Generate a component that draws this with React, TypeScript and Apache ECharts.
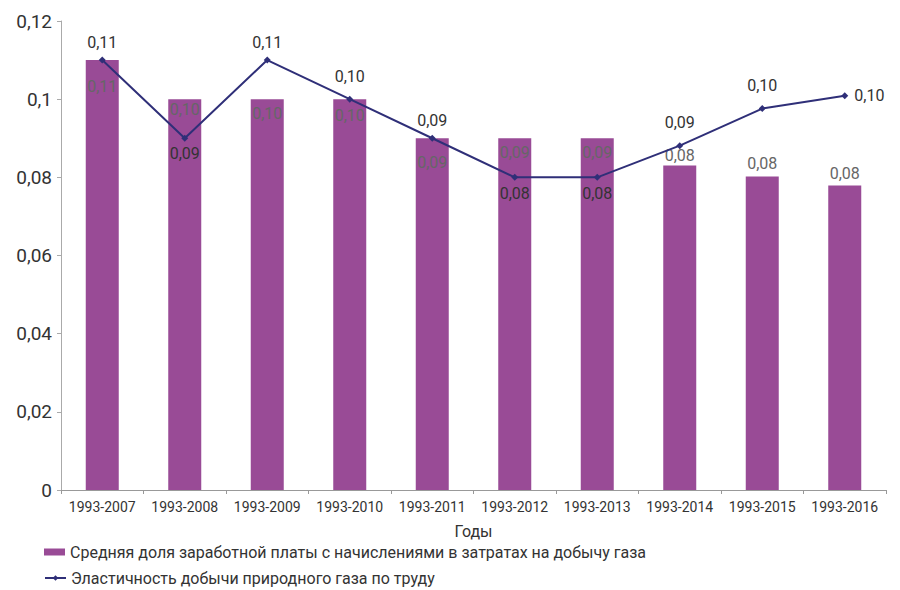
import React, { useEffect, useRef } from "react";
import * as echarts from "echarts";

const categories = [
  "1993-2007", "1993-2008", "1993-2009", "1993-2010", "1993-2011",
  "1993-2012", "1993-2013", "1993-2014", "1993-2015", "1993-2016",
];
const wageShare = [0.11, 0.1, 0.1, 0.1, 0.09, 0.09, 0.09, 0.083, 0.0802, 0.0779];
const elasticity = [0.11, 0.09, 0.11, 0.1, 0.09, 0.08, 0.08, 0.0881, 0.0976, 0.1009];
const yTicks = { min: 0, max: 0.12, interval: 0.02 };
const seriesNames = [
  "Средняя доля заработной платы с начислениями в затратах на добычу газа",
  "Эластичность добычи природного газа по труду",
];
const xAxisTitle = "Годы";

// label placement (style, not data)
const wageLabelPos = ["insideTop", "insideTop", "insideTop", "insideTop", "insideTop", "insideTop", "insideTop", "top", "top", "top"];
const wageLabelDist = [18, 2, 6, 8, 16, 6, 6, 2, 5, 4];
const elasticityLabelPos = ["top", "bottom", "top", "top", "top", "bottom", "bottom", "top", "top", "right"];
const elasticityLabelDist = [6, 4, 6, 11, 6, 5, 5, 12, 12, 6];

const fmt2 = (v: number) => v.toFixed(2).replace(".", ",");

export default function App() {
  const ref = useRef<HTMLDivElement>(null);
  useEffect(() => {
    if (!ref.current) return;
    const chart = echarts.init(ref.current, null, { renderer: "svg" });
    const font = "Roboto, sans-serif";
    const legendBase = {
      orient: "horizontal",
      left: 44,
      padding: 0,
      itemWidth: 21,
      itemHeight: 7,
      textStyle: { fontFamily: font, fontSize: 16, color: "#333" },
    };
    chart.setOption({
      animation: false,
      backgroundColor: "#fff",
      grid: { left: 61, right: 14, top: 21, bottom: 100 },
      legend: [
        { ...legendBase, top: 544, data: [{ name: seriesNames[0], icon: "rect" }] },
        { ...legendBase, top: 570, data: [{ name: seriesNames[1] }] },
      ],
      xAxis: {
        type: "category",
        data: categories,
        name: xAxisTitle,
        nameLocation: "middle",
        nameGap: 33,
        nameTextStyle: { fontFamily: font, fontSize: 16, color: "#333" },
        axisLine: { lineStyle: { color: "#999" } },
        axisTick: { show: true, length: 4, lineStyle: { color: "#999" } },
        axisLabel: { fontFamily: font, fontSize: 14, color: "#333", margin: 10, interval: 0 },
      },
      yAxis: {
        type: "value",
        min: yTicks.min,
        max: yTicks.max,
        interval: yTicks.interval,
        axisLine: { show: true, lineStyle: { color: "#aaa" } },
        axisTick: { show: true, length: 4, lineStyle: { color: "#aaa" } },
        splitLine: { show: false },
        axisLabel: {
          fontFamily: font,
          fontSize: 19,
          color: "#333",
          margin: 9,
          formatter: (v: number) => String(Number(v.toFixed(2))).replace(".", ","),
        },
      },
      series: [
        {
          name: seriesNames[0],
          type: "bar",
          barWidth: "40%",
          itemStyle: { color: "#994b96" },
          data: wageShare.map((v, i) => ({
            value: v,
            label: { position: wageLabelPos[i], distance: wageLabelDist[i] },
          })),
          label: {
            show: true,
            fontFamily: font,
            fontSize: 16,
            color: "#666",
            formatter: (p: any) => fmt2(p.value),
          },
        },
        {
          name: seriesNames[1],
          type: "line",
          symbol: "diamond",
          symbolSize: 7,
          itemStyle: { color: "#2f2f78" },
          lineStyle: { color: "#2f2f78", width: 2 },
          data: elasticity.map((v, i) => ({
            value: v,
            label: { position: elasticityLabelPos[i], distance: elasticityLabelDist[i] },
          })),
          label: {
            show: true,
            fontFamily: font,
            fontSize: 16,
            color: "#333",
            formatter: (p: any) => fmt2(p.value),
          },
        },
      ],
    });
    return () => chart.dispose();
  }, []);
  return <div ref={ref} style={{ width: 900, height: 590, position: "fixed", top: 0, left: 0 }} />;
}
